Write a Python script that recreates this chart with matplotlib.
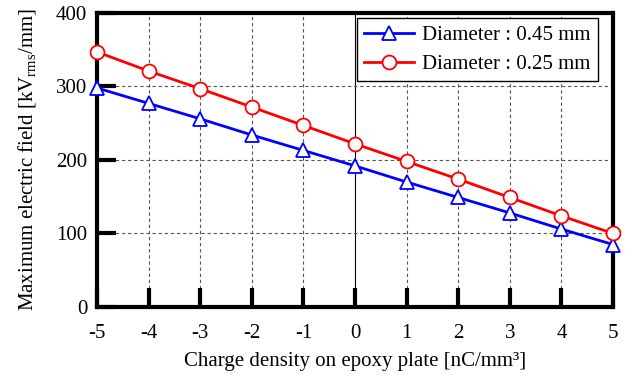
import numpy as np
import matplotlib.pyplot as plt

plt.rcParams['font.family'] = ['Liberation Serif', 'DejaVu Serif']
plt.rcParams['mathtext.fontset'] = 'custom'
plt.rcParams['mathtext.rm'] = 'Liberation Serif'
plt.rcParams['mathtext.it'] = 'Liberation Serif:italic'
plt.rcParams['axes.unicode_minus'] = False

# Charge density [nC/mm^3]
charge = [-5, -4, -3, -2, -1, 0, 1, 2, 3, 4, 5]
# Maximum electric field [kVrms/mm]
field_045 = [298, 277, 256, 234, 213, 192, 170, 149, 128, 106, 85]
field_025 = [347, 321, 297, 272, 247, 222, 198, 174, 149, 124, 100]

x_ticks = [-5, -4, -3, -2, -1, 0, 1, 2, 3, 4, 5]
y_ticks = [0, 100, 200, 300, 400]


def main():
    fig = plt.figure(figsize=(6.3, 3.76), dpi=100)
    ax = fig.add_axes([0.154, 0.1835, 0.819, 0.782])

    # grid
    for xv in x_ticks[1:-1]:
        if xv == 0:
            ax.axvline(xv, color="black", linewidth=0.8, zorder=1)
        else:
            ax.axvline(xv, color="#555555", linewidth=0.8, linestyle=(0, (3, 2.5)), zorder=1)
    for yv in y_ticks[1:-1]:
        ax.axhline(yv, color="#555555", linewidth=0.8, linestyle=(0, (3, 2.5)), zorder=1)

    ax.plot(charge, field_045, color="blue", linewidth=2, marker="^", markersize=10,
            markerfacecolor="white", markeredgecolor="blue", markeredgewidth=1.3,
            label="Diameter : 0.45 mm", clip_on=False, zorder=4)
    ax.plot(charge, field_025, color="red", linewidth=2, marker="o", markersize=10,
            markerfacecolor="white", markeredgecolor="red", markeredgewidth=1.3,
            label="Diameter : 0.25 mm", clip_on=False, zorder=5)

    ax.set_xlim(-5, 5)
    ax.set_ylim(0, 400)
    ax.set_xticks(x_ticks)
    ax.set_yticks(y_ticks)
    ax.tick_params(direction="in", length=14, width=3, labelsize=15)
    ax.tick_params(axis="x", pad=12)
    ax.tick_params(axis="y", pad=7)
    for s in ax.spines.values():
        s.set_linewidth(3)

    ax.set_xlabel("Charge density on epoxy plate [nC/mm\u00b3]", fontsize=15, labelpad=7)
    ax.set_ylabel(r"Maximum electric field [kV$_{\rm rms}$/mm]", fontsize=15, labelpad=13)

    leg = ax.legend(loc="upper right", fontsize=15, fancybox=False, framealpha=1,
                    edgecolor="black", handlelength=2.4, borderpad=0.35,
                    labelspacing=0.45, handletextpad=0.4, borderaxespad=0,
                    bbox_to_anchor=(0.971, 0.983))
    leg.get_frame().set_linewidth(1.0)

    fig.savefig("out.png", dpi=100)


if __name__ == "__main__":
    main()
